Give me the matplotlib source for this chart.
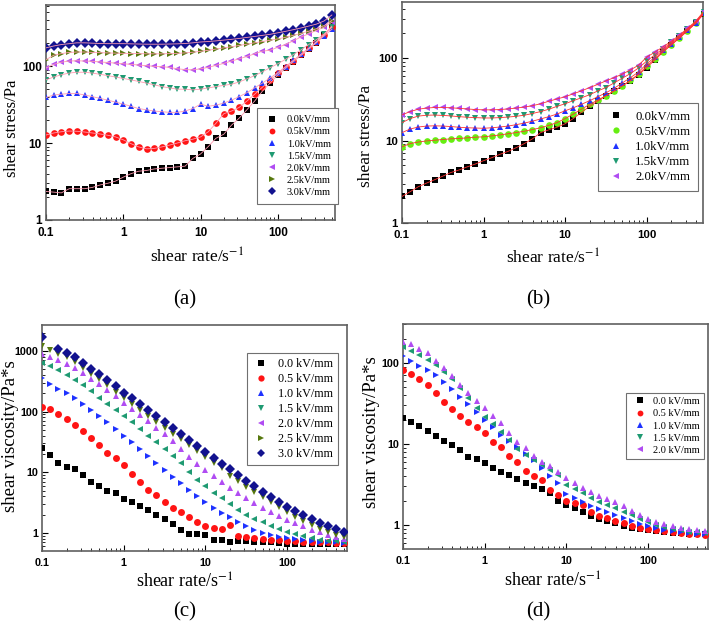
import numpy as np
import matplotlib
matplotlib.use('Agg')
import matplotlib.pyplot as plt
from matplotlib.lines import Line2D
from matplotlib.ticker import FixedLocator, LogLocator, NullFormatter

plt.rcParams['font.family'] = ['Liberation Serif', 'DejaVu Serif']
plt.rcParams['mathtext.fontset'] = 'stix'

# ---------------- data ----------------
RATE = [0.1, 0.126, 0.158, 0.2, 0.251, 0.316, 0.398, 0.501, 0.631, 0.794,
        1.0, 1.26, 1.58, 2.0, 2.51, 3.16, 3.98, 5.01, 6.31, 7.94,
        10.0, 12.6, 15.8, 20.0, 25.1, 31.6, 39.8, 50.1, 63.1, 79.4,
        100, 126, 158, 200, 251, 316, 398, 501]

LABELS_AB = ['0.0kV/mm', '0.5kV/mm', '1.0kV/mm', '1.5kV/mm', '2.0kV/mm', '2.5kV/mm', '3.0kV/mm']
LABELS_CD = ['0.0 kV/mm', '0.5 kV/mm', '1.0 kV/mm', '1.5 kV/mm', '2.0 kV/mm', '2.5 kV/mm', '3.0 kV/mm']

# (a) shear stress, Pa
A_00 = [2.35, 2.3, 2.25, 2.55, 2.55, 2.55, 2.65, 2.85, 3.0, 3.2, 3.6, 4.0, 4.3, 4.4, 4.6, 4.7, 4.8, 4.9, 5.0, 6.3,
        7.2, 9.0, 11.5, 13, 17, 21, 27, 35, 47, 60, 76, 93, 113, 137, 165, 200, 255, 330]
A_05 = [12.7, 13.5, 14.0, 14.3, 14.2, 13.9, 13.5, 13.1, 12.6, 12.0, 11.0, 9.8, 8.9, 8.4, 8.5, 8.9, 9.4, 10.0, 10.7, 11.2,
        12.0, 14, 18, 24, 26, 29, 35, 43, 53, 65, 80, 97, 117, 142, 170, 205, 255, 320]
A_10 = [39, 42, 43, 44, 44, 42, 40, 38, 36, 34, 32, 30, 28, 27, 26, 25.5, 25, 25, 26, 28,
        32, 30, 31, 33, 36, 40, 45, 52, 60, 70, 82, 98, 118, 142, 170, 205, 245, 300]
A_15 = [66, 72, 77, 81, 83, 83, 81, 78, 75, 72, 69, 66, 63, 60, 57, 54, 52, 50, 50, 49,
        50, 52, 54, 56, 58, 62, 68, 75, 84, 95, 107, 122, 140, 162, 190, 220, 260, 320]
A_20 = [94, 105, 112, 116, 117, 116, 115, 113, 111, 109, 107, 105, 103, 101, 99, 98, 96, 92, 90, 89,
        92, 96, 102, 108, 116, 124, 133, 144, 156, 160, 175, 190, 212, 238, 262, 290, 320, 370]
A_25 = [121, 138, 145, 150, 152, 152, 150, 149, 148, 147, 146, 145, 145, 144, 144, 144, 145, 146, 148, 151,
        155, 160, 166, 172, 178, 185, 192, 200, 208, 216, 225, 236, 250, 265, 283, 305, 335, 390]
A_30 = [172, 182, 190, 195, 200, 200, 198, 196, 195, 195, 195, 194, 193, 192, 192, 192, 193, 194, 196, 200,
        205, 208, 212, 217, 222, 228, 235, 242, 250, 258, 270, 282, 296, 312, 330, 350, 385, 460]

# (b) shear stress, Pa
B_00 = [2.1, 2.4, 2.75, 3.05, 3.35, 3.7, 4.1, 4.4, 4.8, 5.2, 5.7, 6.2, 6.8, 7.4, 8.2, 9.2, 10.5, 12.5, 13.5, 14.5,
        16, 18.5, 22, 26, 30, 35, 40, 46, 53, 63, 77, 95, 118, 145, 175, 215, 265, 345]
B_05 = [8.4, 9.2, 9.6, 9.9, 10.1, 10.3, 10.5, 10.6, 10.8, 11.0, 11.1, 11.4, 11.7, 12.1, 12.5, 13.0, 13.6, 14.3, 15.3, 16.5,
        18.5, 21, 24, 27.5, 31, 35, 40, 46, 54, 64, 80, 98, 120, 145, 175, 215, 265, 350]
B_10 = [12.5, 13.8, 14.6, 15.0, 15.1, 15.0, 14.8, 14.5, 14.3, 14.2, 14.1, 14.3, 14.6, 15.0, 15.6, 16.3, 17.2, 18.3, 19.5, 21,
        23, 25, 27.5, 30.5, 34, 38, 43, 50, 58, 68, 85, 103, 125, 150, 180, 220, 270, 355]
B_15 = [16.5, 18.5, 19.8, 20.3, 20.4, 20.2, 19.9, 19.5, 19.2, 19.0, 18.8, 18.8, 19.0, 19.3, 19.7, 20.3, 21.3, 22.5, 24, 26,
        28, 30.5, 33, 36, 40, 44, 50, 57, 65, 76, 92, 110, 130, 155, 185, 225, 275, 360]
B_20 = [20.5, 22.5, 24, 24.8, 25.2, 25.2, 25, 24.6, 24.2, 23.8, 23.6, 23.6, 23.8, 24.2, 24.8, 25.5, 26.5, 28, 30, 32,
        34, 37, 40, 44, 48, 53, 58, 64, 72, 82, 103, 118, 137, 160, 190, 230, 280, 370]

# (c) shear viscosity, Pa*s
C_00 = [24.9, 19.3, 14, 12, 11.3, 9.0, 7.0, 6.0, 5.0, 4.5, 3.6, 3.3, 2.8, 2.4, 2.0, 1.7, 1.4, 1.1, 0.95, 0.95,
        0.92, 0.78, 0.78, 0.72, 0.75, 0.74, 0.72, 0.7, 0.7, 0.68, 0.67, 0.67, 0.66, 0.66, 0.65, 0.65, 0.65, 0.66]
C_05 = [117, 110, 90, 75, 60, 47, 37, 28, 21, 17, 13, 9.5, 7.0, 5.2, 4.2, 3.3, 2.6, 2.2, 1.8, 1.5,
        1.3, 1.22, 1.18, 1.35, 0.9, 0.85, 0.82, 0.8, 0.78, 0.76, 0.75, 0.73, 0.72, 0.71, 0.7, 0.7, 0.69, 0.69]
C_10 = [354, 290, 240, 200, 165, 135, 108, 85, 67, 52, 40, 31, 24, 18.5, 14.2, 11, 8.5, 6.6, 5.1, 4.0,
        3.2, 2.6, 2.15, 1.8, 1.5, 1.28, 1.12, 1.0, 0.92, 0.86, 0.82, 0.79, 0.76, 0.74, 0.72, 0.71, 0.7, 0.69]
C_15 = [627, 560, 480, 400, 330, 270, 215, 170, 135, 107, 85, 67, 52, 40, 31, 24, 18.5, 14, 10, 7.6,
        5.9, 4.6, 3.7, 3.0, 2.4, 2.0, 1.68, 1.5, 1.3, 1.15, 1.03, 0.95, 0.88, 0.82, 0.78, 0.75, 0.73, 0.72]
C_20 = [890, 800, 700, 610, 520, 430, 350, 285, 230, 180, 140, 110, 87, 69, 54, 42, 33, 24, 18, 13.5,
        10.8, 8.6, 6.9, 5.6, 4.5, 3.7, 3.1, 2.6, 2.2, 1.9, 1.65, 1.45, 1.28, 1.14, 1.02, 0.93, 0.86, 0.8]
C_25 = [1200, 1040, 900, 780, 650, 530, 420, 340, 270, 212, 166, 132, 106, 85, 68, 54, 43.5, 35, 28, 22.5,
        18, 14.4, 11.6, 8.8, 7.1, 5.7, 4.65, 3.85, 3.2, 2.68, 2.2, 1.85, 1.58, 1.36, 1.18, 1.04, 0.93, 0.86]
C_30 = [1720, np.nan, 1060, 930, 780, 640, 500, 410, 330, 262, 206, 165, 132, 105, 84, 67, 53, 42.5, 34, 27,
        21.5, 17.3, 13.9, 11.2, 9.0, 7.3, 5.9, 4.8, 3.95, 3.25, 2.7, 2.28, 1.95, 1.68, 1.46, 1.3, 1.16, 1.05]

# (d) shear viscosity, Pa*s
D_00 = [20.8, 18.5, 16.5, 14.5, 12.5, 11, 9.8, 8.5, 7.0, 6.5, 5.8, 5.0, 4.5, 4.1, 3.7, 3.3, 3.0, 2.75, 2.5, 2.0,
        1.75, 1.6, 1.45, 1.3, 1.2, 1.12, 1.05, 0.98, 0.93, 0.9, 0.86, 0.84, 0.82, 0.8, 0.79, 0.78, 0.77, 0.77]
D_05 = [82, 73, 63, 53, 43, 33, 27, 22, 18.5, 16, 13.5, 10.5, 9.3, 7.2, 6.0, 4.7, 4.0, 3.6, 2.7, 2.35,
        2.0, 1.85, 1.75, 1.45, 1.3, 1.22, 1.12, 1.05, 0.98, 0.93, 0.9, 0.86, 0.84, 0.82, 0.8, 0.78, 0.77, 0.76]
D_10 = [120, 106, 92, 82, 71, 58, 47, 38, 31, 25, 20, 16, 13, 10.8, 9.1, 7.6, 6.3, 5.0, 4.0, 3.3,
        2.4, 2.15, 1.9, 1.72, 1.58, 1.45, 1.33, 1.22, 1.12, 1.04, 0.97, 0.92, 0.88, 0.85, 0.82, 0.8, 0.78, 0.77]
D_15 = [159, 140, 125, 110, 94, 78, 64, 49, 37, 28, 21.5, 17.5, 14, 11.2, 8.6, 7.3, 6.3, 5.5, 4.8, 4.1,
        3.1, 2.75, 2.45, 2.15, 1.95, 1.75, 1.6, 1.45, 1.32, 1.2, 1.08, 1.0, 0.95, 0.9, 0.86, 0.83, 0.81, 0.8]
D_20 = [183, 170, 150, 133, 107, 86, 68, 54, 43, 34, 27.5, 22, 18, 13.8, 10.7, 8.8, 7.1, 6.0, 5.3, 4.5,
        3.8, 3.3, 2.9, 2.55, 2.3, 2.1, 1.9, 1.7, 1.5, 1.32, 1.18, 1.1, 1.02, 0.97, 0.93, 0.9, 0.87, 0.85]

# ---------------- styles ----------------
BLK, RED, BLU, TEA, VIO, OLI, NAV, LIM = ('#000000', '#ff1414', '#1e32ff', '#1f9a72',
                                         '#b04cf2', '#56780e', '#12128f', '#66ee11')
MK_STD = ['s', 'o', '^', 'v', '<', '>', 'D']
MK_CD_DATA = ['s', 'o', '>', '<', '^', 'v', 'D']

W, H = 709, 627
fig = plt.figure(figsize=(W / 100, H / 100), dpi=100)


def px_axes(l, t, r, b):
    return fig.add_axes([l / W, 1 - b / H, (r - l) / W, (b - t) / H])


def setup(ax, xlim, ylim, yticks, tsize):
    ax.set_xscale('log')
    ax.set_yscale('log')
    ax.set_xlim(*xlim)
    ax.set_ylim(*ylim)
    ax.xaxis.set_major_locator(FixedLocator([0.1, 1, 10, 100]))
    ax.xaxis.set_minor_locator(LogLocator(base=10, subs=np.arange(2, 10)))
    ax.yaxis.set_major_locator(FixedLocator(yticks))
    ax.yaxis.set_minor_locator(LogLocator(base=10, subs=np.arange(2, 10)))
    ax.xaxis.set_minor_formatter(NullFormatter())
    ax.yaxis.set_minor_formatter(NullFormatter())
    ax.set_xticklabels(['0.1', '1', '10', '100'], fontfamily='Liberation Sans',
                       fontweight='bold', fontsize=tsize)
    ax.set_yticklabels([('%g' % v) for v in yticks], fontfamily='Liberation Sans',
                       fontweight='bold', fontsize=tsize)
    ax.tick_params(which='both', direction='in', top=False, right=False)
    ax.tick_params(which='major', length=4, width=0.8)
    ax.tick_params(axis='x', which='major', pad=5)
    ax.tick_params(axis='y', which='major', pad=3)
    ax.tick_params(which='minor', length=2.2, width=0.6)
    for s in ax.spines.values():
        s.set_color('#606060')
        s.set_linewidth(1.2)


def scatter(ax, series, colors, markers, ms=4.8, line=None):
    for y, c, m in zip(series, colors, markers):
        ax.plot(RATE, y, ls='none', marker=m, color=c, ms=ms, mew=0, zorder=3)
        if line is not None:
            ax.plot(RATE, y, ls='-', color=line, lw=0.6, zorder=4)


def legend(ax, labels, colors, markers, anchor, fs, ls, bp, hl, htp, ms=4.2):
    handles = [Line2D([], [], ls='none', marker=m, color=c, ms=ms, mew=0)
               for c, m in zip(colors, markers)]
    leg = ax.legend(handles, labels, loc='upper left', bbox_to_anchor=anchor,
                    frameon=True, fancybox=False, edgecolor='#707070', framealpha=1,
                    fontsize=fs, labelspacing=ls, borderpad=bp, handlelength=hl,
                    handletextpad=htp, borderaxespad=0)
    leg.get_frame().set_linewidth(0.8)


def ftext(x, y, s, **kw):
    fig.text(x / W, 1 - y / H, s, ha='center', va='center', **kw)


# ---------------- (a) ----------------
axa = px_axes(46, 5, 335, 220)
colA = [BLK, RED, BLU, TEA, VIO, OLI, NAV]
scatter(axa, [A_00, A_05, A_10, A_15, A_20, A_25, A_30], colA, MK_STD, line='#ff9ab0')
setup(axa, (0.1, 550), (1, 620), [1, 10, 100], 8.5)
legend(axa, LABELS_AB, colA, MK_STD, (0.73, 0.521), 7.4, 0.28, 0.7, 1.6, 0.6, ms=4.2)

# ---------------- (b) ----------------
axb = px_axes(402, 2, 703, 223)
colB = [BLK, LIM, BLU, TEA, VIO]
scatter(axb, [B_00, B_05, B_10, B_15, B_20], colB, MK_STD[:5], line='#ff3030')
setup(axb, (0.1, 490), (1, 480), [1, 10, 100], 8.2)
legend(axb, LABELS_AB[:5], colB, MK_STD[:5], (0.651, 0.543), 9.2, 0.25, 0.6, 1.7, 0.6, ms=4.5)

# ---------------- (c) ----------------
axc = px_axes(42, 325, 347, 551)
scatter(axc, [C_00, C_05, C_10, C_15, C_20, C_25, C_30], colA, MK_CD_DATA, ms=5)
setup(axc, (0.1, 540), (0.505, 2670), [1, 10, 100, 1000], 7.8)
legend(axc, LABELS_CD, colA, MK_STD, (0.672, 0.876), 8.7, 0.25, 0.4, 1.6, 0.6, ms=4.5)

# ---------------- (d) ----------------
axd = px_axes(403, 324, 708, 549)
scatter(axd, [D_00, D_05, D_10, D_15, D_20], [BLK, RED, BLU, TEA, VIO], MK_CD_DATA[:5], ms=5)
setup(axd, (0.1, 540), (0.506, 302), [1, 10, 100], 7.8)
legend(axd, LABELS_CD[:5], [BLK, RED, BLU, TEA, VIO], MK_STD[:5], (0.731, 0.693), 7.4, 0.3, 0.36, 2.0, 0.3, ms=4.2)

# ---------------- labels ----------------
ftext(12, 128, 'shear stress/Pa', rotation=90, fontsize=12)
ftext(366, 136, 'shear stress/Pa', rotation=90, fontsize=12.5)
ftext(11, 436, 'shear viscosity/Pa*s', rotation=90, fontsize=13.5)
ftext(372, 432, 'shear viscosity/Pa*s', rotation=90, fontsize=13.5)
ftext(197, 257, r'shear rate/s$^{-1}$', fontsize=12.5)
ftext(553, 258, r'shear rate/s$^{-1}$', fontsize=12.5)
ftext(185, 582, r'shear rate/s$^{-1}$', fontsize=13)
ftext(553, 581, r'shear rate/s$^{-1}$', fontsize=13)
ftext(185, 300, '(a)', fontsize=15)
ftext(538, 300, '(b)', fontsize=15)
ftext(185, 612, '(c)', fontsize=15)
ftext(538, 612, '(d)', fontsize=15)

fig.savefig('out.png', dpi=100)
